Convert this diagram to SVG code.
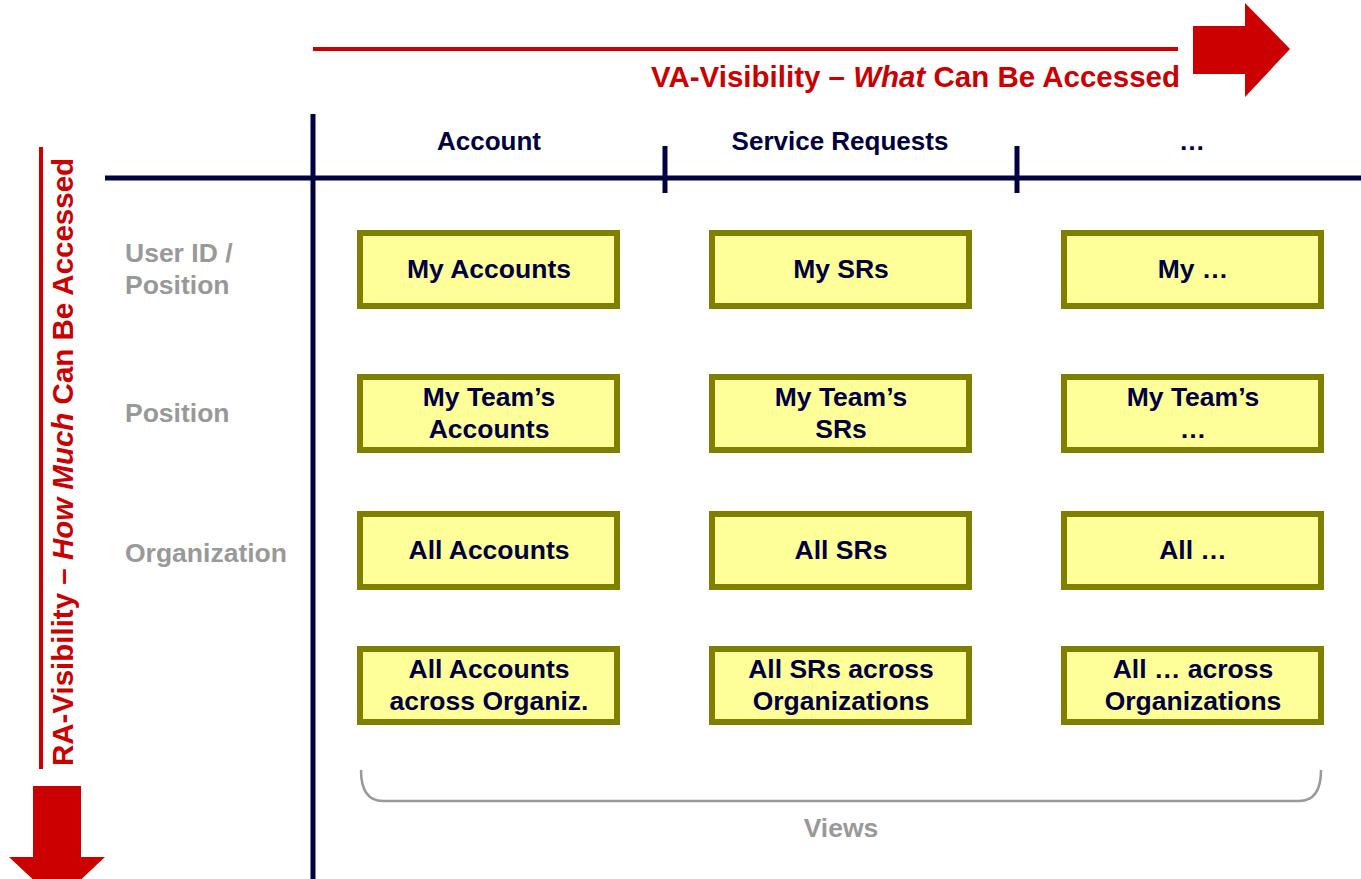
<svg xmlns="http://www.w3.org/2000/svg" width="1361" height="879" viewBox="0 0 1361 879">
<style>
.red{fill:#CC0000;font-family:"Liberation Sans",Arial,sans-serif;font-weight:bold;font-size:29.5px}
.hdr{fill:#000040;font-family:"Liberation Sans",Arial,sans-serif;font-weight:bold;font-size:26px;text-anchor:middle}
.row{fill:#999999;font-family:"Liberation Sans",Arial,sans-serif;font-weight:bold;font-size:26.5px}
.box rect{fill:#FFFF99;stroke:#808000;stroke-width:6}
.box text{fill:#000040;font-family:"Liberation Sans",Arial,sans-serif;font-weight:bold;font-size:26.5px;text-anchor:middle}
.grid{stroke:#000040;stroke-width:5;fill:none}
</style>
<rect width="1361" height="879" fill="#FFFFFF"/>
<g id="va-axis">
<line x1="313" y1="49" x2="1178" y2="49" stroke="#CC0000" stroke-width="4"/>
<polygon points="1193,26 1245,26 1245,3 1290,49 1245,97 1245,74 1193,74" fill="#CC0000"/>
<text class="red" x="1180" y="87" text-anchor="end">VA-Visibility – <tspan font-style="italic">What</tspan> Can Be Accessed</text>
</g>
<g id="ra-axis">
<line x1="41" y1="147" x2="41" y2="769" stroke="#CC0000" stroke-width="4"/>
<polygon points="33,786 81,786 81,857 105,857 57,902 9,857 33,857" fill="#CC0000"/>
<text class="red" transform="translate(73,462) rotate(-90)" text-anchor="middle">RA-Visibility – <tspan font-style="italic">How Much</tspan> Can Be Accessed</text>
</g>
<g id="grid">
<line class="grid" x1="313" y1="114" x2="313" y2="879"/>
<line class="grid" x1="105" y1="178" x2="1361" y2="178"/>
<line class="grid" x1="665" y1="146" x2="665" y2="193"/>
<line class="grid" x1="1017" y1="146" x2="1017" y2="193"/>
</g>
<g id="headers">
<text class="hdr" x="489" y="150">Account</text>
<text class="hdr" x="840" y="150">Service Requests</text>
<text class="hdr" x="1192" y="150">…</text>
</g>
<g id="row-labels">
<text class="row" x="125" y="262">User ID /</text>
<text class="row" x="125" y="294">Position</text>
<text class="row" x="125" y="422">Position</text>
<text class="row" x="125" y="562">Organization</text>
</g>
<g id="n-my-accounts" class="box"><rect x="360" y="233" width="257" height="73"/><text x="489" y="278">My Accounts</text></g>
<g id="n-my-srs" class="box"><rect x="712" y="233" width="257" height="73"/><text x="841" y="278">My SRs</text></g>
<g id="n-my-etc" class="box"><rect x="1064" y="233" width="257" height="73"/><text x="1193" y="278">My …</text></g>
<g id="n-team-accounts" class="box"><rect x="360" y="377" width="257" height="73"/><text x="489" y="406">My Team’s</text><text x="489" y="438">Accounts</text></g>
<g id="n-team-srs" class="box"><rect x="712" y="377" width="257" height="73"/><text x="841" y="406">My Team’s</text><text x="841" y="438">SRs</text></g>
<g id="n-team-etc" class="box"><rect x="1064" y="377" width="257" height="73"/><text x="1193" y="406">My Team’s</text><text x="1193" y="438">…</text></g>
<g id="n-all-accounts" class="box"><rect x="360" y="514" width="257" height="73"/><text x="489" y="559">All Accounts</text></g>
<g id="n-all-srs" class="box"><rect x="712" y="514" width="257" height="73"/><text x="841" y="559">All SRs</text></g>
<g id="n-all-etc" class="box"><rect x="1064" y="514" width="257" height="73"/><text x="1193" y="559">All …</text></g>
<g id="n-all-accounts-org" class="box"><rect x="360" y="649" width="257" height="73"/><text x="489" y="678">All Accounts</text><text x="489" y="710">across Organiz.</text></g>
<g id="n-all-srs-org" class="box"><rect x="712" y="649" width="257" height="73"/><text x="841" y="678">All SRs across</text><text x="841" y="710">Organizations</text></g>
<g id="n-all-etc-org" class="box"><rect x="1064" y="649" width="257" height="73"/><text x="1193" y="678">All … across</text><text x="1193" y="710">Organizations</text></g>
<g id="views">
<path d="M361,770 Q361,801 383,801 L1299,801 Q1321,801 1321,770" fill="none" stroke="#999999" stroke-width="2.5"/>
<text class="row" x="841" y="837" text-anchor="middle" font-size="24">Views</text>
</g>
</svg>
